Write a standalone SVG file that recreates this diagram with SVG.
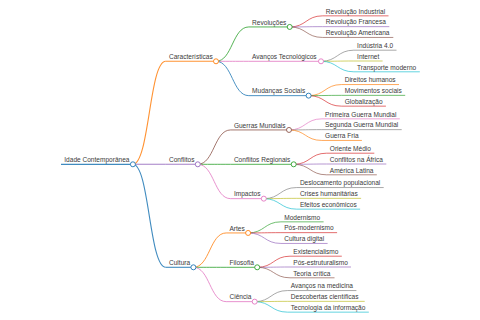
<svg xmlns="http://www.w3.org/2000/svg" width="480" height="320" viewBox="0 0 480 320">
<style>
text{font-family:"Liberation Sans",Arial,sans-serif;font-size:6.56px;fill:#3a3a3a}
path{fill:none;stroke-opacity:0.85}
.d0{stroke-width:1.3}
.d1{stroke-width:1.1}
.d2{stroke-width:0.95}
.d3{stroke-width:0.8}
circle{fill:#fff;stroke-width:0.9}
.c0{stroke:#1f77b4}.c1{stroke:#ff7f0e}.c2{stroke:#2ca02c}.c3{stroke:#d62728}.c4{stroke:#9467bd}
.c5{stroke:#8c564b}.c6{stroke:#e377c2}.c7{stroke:#7f7f7f}.c8{stroke:#bcbd22}.c9{stroke:#17becf}
</style>
<rect width="480" height="320" fill="#fff"/>
<g id="connectors">
<path class="d1 c1" d="M132.9,164.3C149.3,164.3 149.3,61.3 165.7,61.3"/>
<path class="d1 c4" d="M132.9,164.3C149.3,164.3 149.3,164.3 165.7,164.3"/>
<path class="d1 c0" d="M132.9,164.3C149.3,164.3 149.3,267.3 165.7,267.3"/>
<path class="d2 c2" d="M216,61.3C232.4,61.3 232.4,26.95 248.8,26.95"/>
<path class="d2 c6" d="M216,61.3C232.4,61.3 232.4,61.3 248.8,61.3"/>
<path class="d2 c0" d="M216,61.3C232.4,61.3 232.4,95.65 248.8,95.65"/>
<path class="d2 c5" d="M197.8,164.3C214.2,164.3 214.2,129.95 230.6,129.95"/>
<path class="d2 c2" d="M197.8,164.3C214.2,164.3 214.2,164.3 230.6,164.3"/>
<path class="d2 c6" d="M197.8,164.3C214.2,164.3 214.2,198.65 230.6,198.65"/>
<path class="d2 c1" d="M193.4,267.3C209.8,267.3 209.8,232.95 226.2,232.95"/>
<path class="d2 c2" d="M193.4,267.3C209.8,267.3 209.8,267.3 226.2,267.3"/>
<path class="d2 c6" d="M193.4,267.3C209.8,267.3 209.8,301.65 226.2,301.65"/>
<path class="d3 c3" d="M289.7,26.95C306.1,26.95 306.1,15.85 322.5,15.85"/>
<path class="d3 c4" d="M289.7,26.95C306.1,26.95 306.1,26.65 322.5,26.65"/>
<path class="d3 c5" d="M289.7,26.95C306.1,26.95 306.1,37.45 322.5,37.45"/>
<path class="d3 c7" d="M321,61.3C337.4,61.3 337.4,50.2 353.8,50.2"/>
<path class="d3 c8" d="M321,61.3C337.4,61.3 337.4,61 353.8,61"/>
<path class="d3 c9" d="M321,61.3C337.4,61.3 337.4,71.8 353.8,71.8"/>
<path class="d3 c1" d="M308.6,95.65C325,95.65 325,84.55 341.4,84.55"/>
<path class="d3 c2" d="M308.6,95.65C325,95.65 325,95.35 341.4,95.35"/>
<path class="d3 c3" d="M308.6,95.65C325,95.65 325,106.15 341.4,106.15"/>
<path class="d3 c6" d="M289,129.95C305.4,129.95 305.4,118.85 321.8,118.85"/>
<path class="d3 c7" d="M289,129.95C305.4,129.95 305.4,129.65 321.8,129.65"/>
<path class="d3 c1" d="M289,129.95C305.4,129.95 305.4,140.45 321.8,140.45"/>
<path class="d3 c3" d="M293.7,164.3C310.1,164.3 310.1,153.2 326.5,153.2"/>
<path class="d3 c4" d="M293.7,164.3C310.1,164.3 310.1,164 326.5,164"/>
<path class="d3 c5" d="M293.7,164.3C310.1,164.3 310.1,174.8 326.5,174.8"/>
<path class="d3 c7" d="M263.8,198.65C280.2,198.65 280.2,187.55 296.6,187.55"/>
<path class="d3 c8" d="M263.8,198.65C280.2,198.65 280.2,198.35 296.6,198.35"/>
<path class="d3 c9" d="M263.8,198.65C280.2,198.65 280.2,209.15 296.6,209.15"/>
<path class="d3 c2" d="M248.1,232.95C264.5,232.95 264.5,221.85 280.9,221.85"/>
<path class="d3 c3" d="M248.1,232.95C264.5,232.95 264.5,232.65 280.9,232.65"/>
<path class="d3 c4" d="M248.1,232.95C264.5,232.95 264.5,243.45 280.9,243.45"/>
<path class="d3 c3" d="M257.2,267.3C273.6,267.3 273.6,256.2 290,256.2"/>
<path class="d3 c4" d="M257.2,267.3C273.6,267.3 273.6,267 290,267"/>
<path class="d3 c5" d="M257.2,267.3C273.6,267.3 273.6,277.8 290,277.8"/>
<path class="d3 c7" d="M254.7,301.65C271.1,301.65 271.1,290.55 287.5,290.55"/>
<path class="d3 c8" d="M254.7,301.65C271.1,301.65 271.1,301.35 287.5,301.35"/>
<path class="d3 c9" d="M254.7,301.65C271.1,301.65 271.1,312.15 287.5,312.15"/>
</g>
<g id="n-root"><path class="d0 c0" d="M61,164.3H132.9"/><circle class="c0" cx="132.9" cy="164.3" r="2.5"/><text x="64.3" y="162">Idade Contemporânea</text></g>
<g id="n-caracteristicas"><path class="d1 c1" d="M165.7,61.3H216"/><circle class="c1" cx="216" cy="61.3" r="2.5"/><text x="169" y="59">Características</text></g>
<g id="n-conflitos"><path class="d1 c4" d="M165.7,164.3H197.8"/><circle class="c4" cx="197.8" cy="164.3" r="2.5"/><text x="169" y="162">Conflitos</text></g>
<g id="n-cultura"><path class="d1 c0" d="M165.7,267.3H193.4"/><circle class="c0" cx="193.4" cy="267.3" r="2.5"/><text x="169" y="265">Cultura</text></g>
<g id="n-revolucoes"><path class="d2 c2" d="M248.8,26.95H289.7"/><circle class="c2" cx="289.7" cy="26.95" r="2.5"/><text x="252.1" y="24.65">Revoluções</text></g>
<g id="n-avancos-tec"><path class="d2 c6" d="M248.8,61.3H321"/><circle class="c6" cx="321" cy="61.3" r="2.5"/><text x="252.1" y="59">Avanços Tecnológicos</text></g>
<g id="n-mudancas"><path class="d2 c0" d="M248.8,95.65H308.6"/><circle class="c0" cx="308.6" cy="95.65" r="2.5"/><text x="252.1" y="93.35">Mudanças Sociais</text></g>
<g id="n-guerras"><path class="d2 c5" d="M230.6,129.95H289"/><circle class="c5" cx="289" cy="129.95" r="2.5"/><text x="233.9" y="127.65">Guerras Mundiais</text></g>
<g id="n-conf-reg"><path class="d2 c2" d="M230.6,164.3H293.7"/><circle class="c2" cx="293.7" cy="164.3" r="2.5"/><text x="233.9" y="162">Conflitos Regionais</text></g>
<g id="n-impactos"><path class="d2 c6" d="M230.6,198.65H263.8"/><circle class="c6" cx="263.8" cy="198.65" r="2.5"/><text x="233.9" y="196.35">Impactos</text></g>
<g id="n-artes"><path class="d2 c1" d="M226.2,232.95H248.1"/><circle class="c1" cx="248.1" cy="232.95" r="2.5"/><text x="229.5" y="230.65">Artes</text></g>
<g id="n-filosofia"><path class="d2 c2" d="M226.2,267.3H257.2"/><circle class="c2" cx="257.2" cy="267.3" r="2.5"/><text x="229.5" y="265">Filosofia</text></g>
<g id="n-ciencia"><path class="d2 c6" d="M226.2,301.65H254.7"/><circle class="c6" cx="254.7" cy="301.65" r="2.5"/><text x="229.5" y="299.35">Ciência</text></g>
<g id="n-rev-ind"><path class="d3 c3" d="M322.5,15.85H388.5"/><text x="325.8" y="13.55">Revolução Industrial</text></g>
<g id="n-rev-fr"><path class="d3 c4" d="M322.5,26.65H389.3"/><text x="325.8" y="24.35">Revolução Francesa</text></g>
<g id="n-rev-am"><path class="d3 c5" d="M322.5,37.45H393.3"/><text x="325.8" y="35.15">Revolução Americana</text></g>
<g id="n-ind40"><path class="d3 c7" d="M353.8,50.2H396.5"/><text x="357.1" y="47.9">Indústria 4.0</text></g>
<g id="n-internet"><path class="d3 c8" d="M353.8,61H382.6"/><text x="357.1" y="58.7">Internet</text></g>
<g id="n-transporte"><path class="d3 c9" d="M353.8,71.8H419.8"/><text x="357.1" y="69.5">Transporte moderno</text></g>
<g id="n-direitos"><path class="d3 c1" d="M341.4,84.55H399"/><text x="344.7" y="82.25">Direitos humanos</text></g>
<g id="n-movimentos"><path class="d3 c2" d="M341.4,95.35H405.2"/><text x="344.7" y="93.05">Movimentos sociais</text></g>
<g id="n-globalizacao"><path class="d3 c3" d="M341.4,106.15H385.9"/><text x="344.7" y="103.85">Globalização</text></g>
<g id="n-primeira"><path class="d3 c6" d="M321.8,118.85H399.8"/><text x="325.1" y="116.55">Primeira Guerra Mundial</text></g>
<g id="n-segunda"><path class="d3 c7" d="M321.8,129.65H401.7"/><text x="325.1" y="127.35">Segunda Guerra Mundial</text></g>
<g id="n-fria"><path class="d3 c1" d="M321.8,140.45H361.9"/><text x="325.1" y="138.15">Guerra Fria</text></g>
<g id="n-oriente"><path class="d3 c3" d="M326.5,153.2H374.3"/><text x="329.8" y="150.9">Oriente Médio</text></g>
<g id="n-africa"><path class="d3 c4" d="M326.5,164H386.3"/><text x="329.8" y="161.7">Conflitos na África</text></g>
<g id="n-america"><path class="d3 c5" d="M326.5,174.8H376.8"/><text x="329.8" y="172.5">América Latina</text></g>
<g id="n-deslocamento"><path class="d3 c7" d="M296.6,187.55H383.7"/><text x="299.9" y="185.25">Deslocamento populacional</text></g>
<g id="n-crises"><path class="d3 c8" d="M296.6,198.35H361.1"/><text x="299.9" y="196.05">Crises humanitárias</text></g>
<g id="n-efeitos"><path class="d3 c9" d="M296.6,209.15H360.1"/><text x="299.9" y="206.85">Efeitos econômicos</text></g>
<g id="n-modernismo"><path class="d3 c2" d="M280.9,221.85H323.6"/><text x="284.2" y="219.55">Modernismo</text></g>
<g id="n-posmod"><path class="d3 c3" d="M280.9,232.65H337.1"/><text x="284.2" y="230.35">Pós-modernismo</text></g>
<g id="n-digital"><path class="d3 c4" d="M280.9,243.45H327.6"/><text x="284.2" y="241.15">Cultura digital</text></g>
<g id="n-exist"><path class="d3 c3" d="M290,256.2H341.8"/><text x="293.3" y="253.9">Existencialismo</text></g>
<g id="n-posestr"><path class="d3 c4" d="M290,267H351"/><text x="293.3" y="264.7">Pós-estruturalismo</text></g>
<g id="n-teoria"><path class="d3 c5" d="M290,277.8H334.5"/><text x="293.3" y="275.5">Teoria crítica</text></g>
<g id="n-medicina"><path class="d3 c7" d="M287.5,290.55H356.4"/><text x="290.8" y="288.25">Avanços na medicina</text></g>
<g id="n-descobertas"><path class="d3 c8" d="M287.5,301.35H364.7"/><text x="290.8" y="299.05">Descobertas científicas</text></g>
<g id="n-tecnologia"><path class="d3 c9" d="M287.5,312.15H368.8"/><text x="290.8" y="309.85">Tecnologia da informação</text></g>
</svg>
